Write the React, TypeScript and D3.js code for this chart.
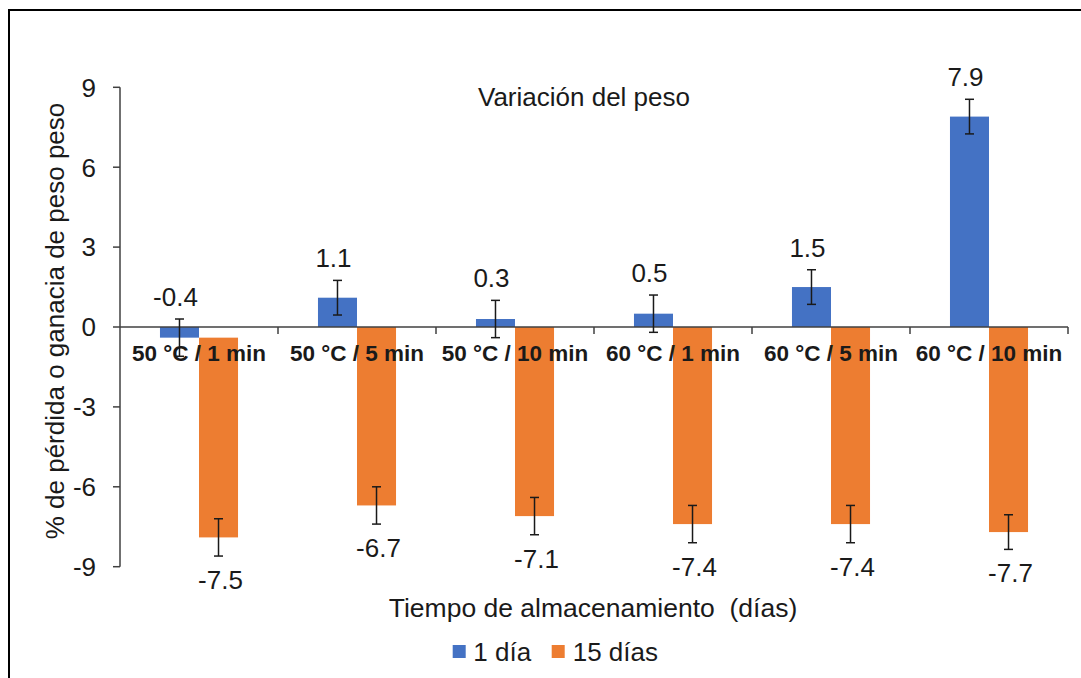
import * as d3 from "d3";

// categories and series
const categories = [
  "50 °C / 1 min",
  "50 °C / 5 min",
  "50 °C / 10 min",
  "60 °C / 1 min",
  "60 °C / 5 min",
  "60 °C / 10 min",
];
const series = ["1 día", "15 días"];
const dia1 = [-0.4, 1.1, 0.3, 0.5, 1.5, 7.9];
const dia15 = [-7.5, -6.7, -7.1, -7.4, -7.4, -7.7];
const err1 = [0.7, 0.65, 0.7, 0.7, 0.65, 0.65];
const err15 = [0.7, 0.7, 0.7, 0.7, 0.7, 0.65];
const yTicks = [-9, -6, -3, 0, 3, 6, 9];

const colors = ["#4472C4", "#ED7D31"];
const font = "'Liberation Sans', Arial, sans-serif";
const ink = "#1a1a1a";

export default function App() {
  const width = 1081;
  const height = 678;
  const left = 120;
  const right = 1068;

  const y = d3.scaleLinear().domain([-9, 9]).range([566.7, 87.3]);
  const x0 = d3.scaleBand().domain(categories).range([left, right]);
  const bw = x0.bandwidth();
  const groupW = bw * 0.494;
  const x1 = d3
    .scaleBand()
    .domain(series)
    .range([(bw - groupW) / 2, (bw + groupW) / 2]);
  const barW = x1.bandwidth();

  // 15-day bars stack below a negative 1-day value, as in the source
  const bars = categories.flatMap((c, i) => {
    const base15 = dia1[i] < 0 ? dia1[i] : 0;
    return [
      { c, s: series[0], from: 0, to: dia1[i], err: err1[i], label: dia1[i], k: 0 },
      { c, s: series[1], from: base15, to: base15 + dia15[i], err: err15[i], label: dia15[i], k: 1 },
    ];
  });

  const y0 = y(0);

  return (
    <svg
      width={width}
      height={height}
      style={{ position: "absolute", left: 0, top: 0, background: "#fff" }}
      fontFamily={font}
    >
      <rect x={9} y={10} width={1200} height={800} fill="none" stroke="#000" strokeWidth={2} />

      <text x={584} y={106} textAnchor="middle" fontSize={26} fill={ink}>
        Variación del peso
      </text>

      {/* bars */}
      {bars.map((b, i) => {
        const bx = x0(b.c)! + x1(b.s)!;
        return (
          <rect
            key={"b" + i}
            x={bx}
            y={Math.min(y(b.from), y(b.to))}
            width={barW}
            height={Math.abs(y(b.to) - y(b.from))}
            fill={colors[b.k]}
          />
        );
      })}

      {/* y axis */}
      <line x1={left} x2={left} y1={y(9)} y2={y(-9)} stroke="#404040" strokeWidth={1.5} />
      {yTicks.map((t) => (
        <g key={"t" + t}>
          <line x1={left - 7} x2={left} y1={y(t)} y2={y(t)} stroke="#404040" strokeWidth={1.5} />
          <text x={96} y={y(t)} dy="0.36em" textAnchor="end" fontSize={26} fill={ink}>
            {t}
          </text>
        </g>
      ))}

      {/* x axis on zero line */}
      <line x1={left} x2={right} y1={y0} y2={y0} stroke="#404040" strokeWidth={1.5} />
      {categories.map((c) => (
        <line
          key={"xt" + c}
          x1={x0(c)! + bw}
          x2={x0(c)! + bw}
          y1={y0}
          y2={y0 + 7}
          stroke="#404040"
          strokeWidth={1.5}
        />
      ))}

      {/* error bars */}
      {bars.map((b, i) => {
        const cx = x0(b.c)! + x1(b.s)! + barW / 2;
        const hi = y(b.to + b.err);
        const lo = y(b.to - b.err);
        return (
          <g key={"e" + i} stroke={ink} strokeWidth={1.5}>
            <line x1={cx} x2={cx} y1={hi} y2={lo} />
            <line x1={cx - 4.5} x2={cx + 4.5} y1={hi} y2={hi} />
            <line x1={cx - 4.5} x2={cx + 4.5} y1={lo} y2={lo} />
          </g>
        );
      })}

      {/* category labels over the bars */}
      {categories.map((c) => (
        <text
          key={"c" + c}
          x={x0(c)! + bw / 2}
          y={360.7}
          textAnchor="middle"
          fontSize={22.5}
          fontWeight="bold"
          fill={ink}
        >
          {c}
        </text>
      ))}

      {/* value labels */}
      {bars.map((b, i) => {
        const cx = x0(b.c)! + x1(b.s)! + barW / 2;
        const ty = b.k === 0 ? y(b.to + b.err) - 13 : y(b.to - b.err) + 33;
        return (
          <text
            key={"l" + i}
            x={cx + (b.k === 0 ? -4 : 2)}
            y={ty}
            textAnchor="middle"
            fontSize={26}
            fill={ink}
          >
            {b.label.toFixed(1)}
          </text>
        );
      })}

      {/* axis titles */}
      <text
        transform={`translate(64, ${321}) rotate(-90)`}
        textAnchor="middle"
        fontSize={26}
        fill={ink}
      >
        % de pérdida o ganacia de peso peso
      </text>
      <text x={593} y={617} textAnchor="middle" fontSize={26.5} fill={ink} style={{ whiteSpace: "pre" }}>
        {"Tiempo de almacenamiento  (días)"}
      </text>

      {/* legend */}
      {[
        { label: series[0], sx: 452.7, tx: 473.3 },
        { label: series[1], sx: 551.7, tx: 572.7 },
      ].map((l, i) => (
        <g key={"lg" + i}>
          <rect x={l.sx} y={645} width={13} height={13} fill={colors[i]} />
          <text x={l.tx} y={661} fontSize={26} fill={ink}>
            {l.label}
          </text>
        </g>
      ))}
    </svg>
  );
}
